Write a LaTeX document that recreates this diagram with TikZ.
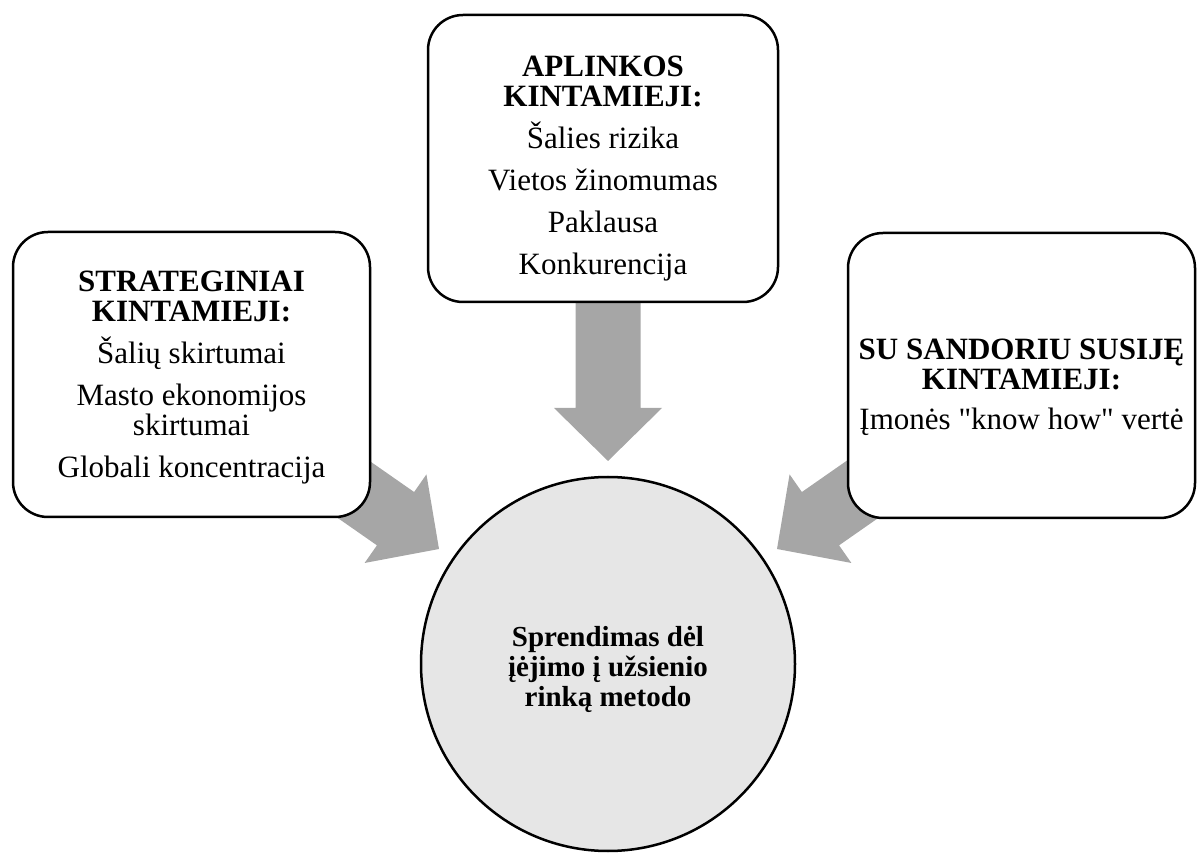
\documentclass[tikz,border=0pt]{standalone}
\usepackage{fontspec}
\setmainfont{Liberation Serif}[Ligatures=TeXOff]
\usetikzlibrary{backgrounds}
\definecolor{arrowgray}{RGB}{166,166,166}
\definecolor{hubfill}{RGB}{230,230,230}
% wide block arrow, tip at the origin, pointing along +x
\newcommand{\blockarrow}[2]{%
  \fill[arrowgray, shift={(#1)}, rotate=#2]
    (0,0) -- (-53,54) -- (-53,32.5) -- (-210,32.5) -- (-210,-32.5)
    -- (-53,-32.5) -- (-53,-54) -- cycle;}
\begin{document}
\begin{tikzpicture}[x=1pt, y=1pt,
  factor/.style={draw=black, line width=2.5pt, fill=white, rounded corners=35pt,
    inner sep=0pt},
  factortext/.style={align=center, inner sep=0pt, font=\fontsize{31}{30}\selectfont},
  hub/.style={circle, draw=black, line width=2.5pt, fill=hubfill,
    minimum size=374pt, inner sep=0pt},
  hubtext/.style={align=center, inner sep=0pt,
    font=\fontsize{29}{30}\selectfont\bfseries}]
\useasboundingbox (0,0) rectangle (1197,852);

% factor boxes
\node[factor, minimum width=350pt, minimum height=287pt] (env) at (603,693.5) {};
\node[factortext] (envtext) at ([yshift=-10pt]env.center)
  {\textbf{APLINKOS}\\ \textbf{KINTAMIEJI:}\\[12pt]
   Šalies rizika\\[12pt] Vietos žinomumas\\[12pt] Paklausa\\[12pt] Konkurencija};
\node[factor, minimum width=357pt, minimum height=285pt] (strat) at (191.5,477.5) {};
\node[factortext] (strattext) at ([yshift=-3pt]strat.center)
  {\textbf{STRATEGINIAI}\\ \textbf{KINTAMIEJI:}\\[12pt]
   Šalių skirtumai\\[12pt] Masto ekonomijos\\ skirtumai\\[12pt] Globali koncentracija};
\node[factor, minimum width=347pt, minimum height=285pt] (trans) at (1021.5,476.5) {};
\node[factortext] (transtext) at ([yshift=-12pt]trans.center)
  {\textbf{SU SANDORIU SUSIJĘ}\\ \textbf{KINTAMIEJI:}\\[10pt]
   Įmonės "know how" vertė};

% decision circle
\node[hub] (dec) at (608,188) {};
\node[hubtext] (dectext) at ([yshift=-5pt]dec.center)
  {Sprendimas dėl\\ įėjimo į užsienio\\ rinką metodo};

% arrow tips just outside the circle
\coordinate (tipenv) at (608,391);
\coordinate (tipstrat) at (439,303);
\coordinate (tiptrans) at (777,303);

\begin{scope}[on background layer]
  \blockarrow{tipenv}{-90}
  \blockarrow{tipstrat}{-34.9}
  \blockarrow{tiptrans}{214.9}
\end{scope}
\end{tikzpicture}
\end{document}
